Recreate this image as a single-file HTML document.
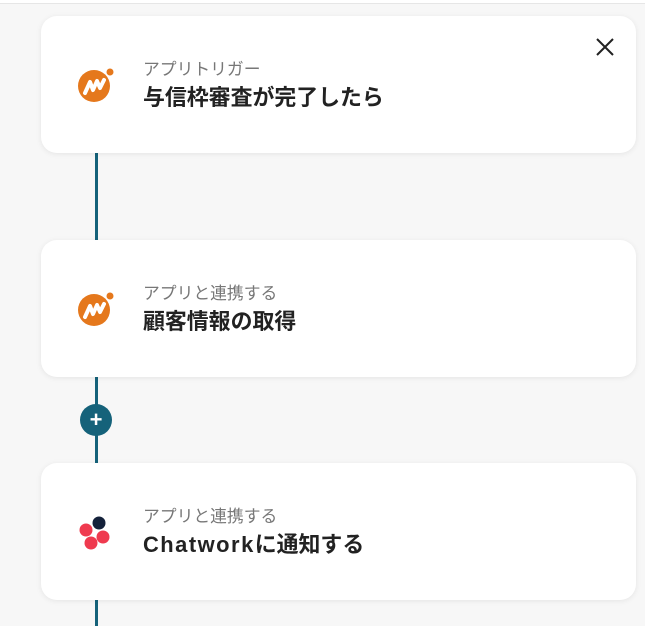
<!DOCTYPE html>
<html><head><meta charset="utf-8"><style>
body{margin:0;width:645px;height:626px;background:#f7f7f7;position:relative;overflow:hidden;font-family:"Liberation Sans","Noto Sans CJK JP",sans-serif}
.top{position:absolute;left:0;top:0;width:645px;height:3px;background:#fff;border-bottom:1px solid #e6e6e6}
.line{position:absolute;left:95px;width:3px;background:#15627a}
.card{position:absolute;left:41px;width:595px;height:137px;background:#fff;border-radius:16px;box-shadow:0 1px 6px rgba(0,0,0,.08)}
.sub{position:absolute;left:102px;top:40px;font-size:16.8px;color:#777}
.title{position:absolute;left:102px;top:65px;font-size:21.9px;font-weight:bold;color:#222}
.icon{position:absolute;left:36px;top:50px}
.plus{position:absolute;left:80px;top:404px;width:32px;height:32px;border-radius:50%;background:#15627a;color:#fff;font-size:22px;font-weight:bold;text-align:center;line-height:31px}
</style></head><body>
<div class="top"></div>
<div class="line" style="top:150px;height:92px"></div>
<div class="line" style="top:375px;height:90px"></div>
<div class="line" style="top:598px;height:28px"></div>
<div class="plus">+</div>
<div class="card" style="top:16px">
<svg class="icon" width="38" height="38" viewBox="0 0 38 38"><circle cx="17" cy="20" r="16" fill="#e5781c"/><circle cx="33" cy="6" r="3.5" fill="#e5781c"/><path d="M8 27 L13 16 L16 24 L20 15 L23 22 L27 14" stroke="#fff" stroke-width="4" fill="none" stroke-linejoin="round" stroke-linecap="round"/></svg>
<div class="sub">アプリトリガー</div><div class="title">与信枠審査が完了したら</div>
<svg style="position:absolute;left:555px;top:22px" width="18" height="18"><path d="M1 1L17 17M17 1L1 17" stroke="#222" stroke-width="2"/></svg>
</div>
<div class="card" style="top:240px">
<svg class="icon" width="38" height="38" viewBox="0 0 38 38"><circle cx="17" cy="20" r="16" fill="#e5781c"/><circle cx="33" cy="6" r="3.5" fill="#e5781c"/><path d="M8 27 L13 16 L16 24 L20 15 L23 22 L27 14" stroke="#fff" stroke-width="4" fill="none" stroke-linejoin="round" stroke-linecap="round"/></svg>
<div class="sub">アプリと連携する</div><div class="title">顧客情報の取得</div>
</div>
<div class="card" style="top:463px">
<svg class="icon" width="40" height="40" viewBox="0 0 40 40" style="left:34px;top:50px"><circle cx="24" cy="10" r="6.5" fill="#14213a"/><circle cx="11" cy="17" r="6.5" fill="#ef3a4f"/><circle cx="28" cy="24" r="6.5" fill="#ef3a4f"/><circle cx="16" cy="30" r="6.5" fill="#ef3a4f"/></svg>
<div class="sub">アプリと連携する</div><div class="title"><span style="letter-spacing:1.5px">Chatwork</span>に通知する</div>
</div>
</body></html>
